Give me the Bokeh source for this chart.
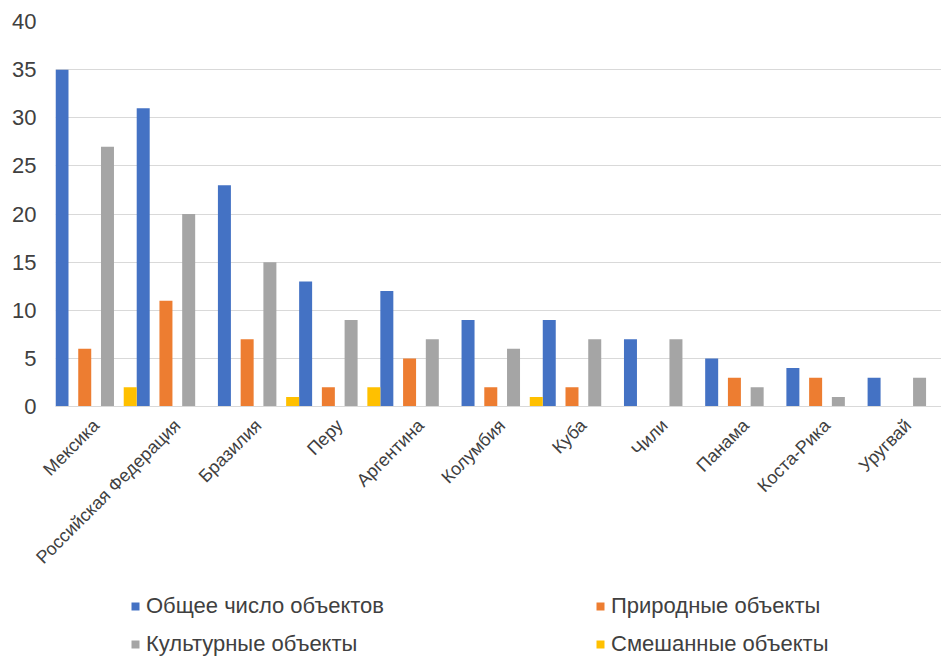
import numpy as np
from bokeh.plotting import figure
from bokeh.layouts import column
from bokeh.models import Range1d, FixedTicker, Legend, LegendItem, ColumnDataSource
from bokeh.embed import file_html
from bokeh.resources import INLINE

# World Heritage sites by country
countries = ["Мексика", "Российская Федерация", "Бразилия", "Перу", "Аргентина",
             "Колумбия", "Куба", "Чили", "Панама", "Коста-Рика", "Уругвай"]
total = [35, 31, 23, 13, 12, 9, 9, 7, 5, 4, 3]
natural = [6, 11, 7, 2, 5, 2, 2, 0, 3, 3, 0]
cultural = [27, 20, 15, 9, 7, 6, 7, 7, 2, 1, 3]
mixed = [2, 0, 1, 2, 0, 1, 0, 0, 0, 0, 0]

series_names = ["Общее число объектов", "Природные объекты",
                "Культурные объекты", "Смешанные объекты"]
series_values = [total, natural, cultural, mixed]
colors = ["#4472C4", "#ED7D31", "#A5A5A5", "#FFC000"]
offsets = [-0.42, -0.14, 0.14, 0.42]
bar_width = 0.16

FONT = "Liberation Sans"
TEXT = "#404040"

p = figure(width=941, height=590, output_backend="svg", toolbar_location=None,
           x_range=Range1d(-0.5, 10.41), y_range=Range1d(0, 40),
           min_border_left=55, min_border_right=0, min_border_top=21,
           min_border_bottom=184)
p.outline_line_color = None
p.background_fill_color = "white"
p.border_fill_color = "white"

idx = np.arange(len(countries))
sources = []
for name, vals, col, off in zip(series_names, series_values, colors, offsets):
    src = ColumnDataSource(dict(x=idx + off, top=vals))
    sources.append(src)
    p.vbar(x="x", top="top", width=bar_width, source=src,
           fill_color=col, line_color=None)

# axes
p.xaxis.ticker = FixedTicker(ticks=list(idx))
p.xaxis.major_label_overrides = {int(i): c for i, c in zip(idx, countries)}
p.xaxis.major_label_orientation = np.pi / 4
p.xaxis.axis_line_color = "#D9D9D9"
p.xaxis.major_tick_line_color = None
p.xaxis.minor_tick_line_color = None
p.xaxis.major_label_text_font = FONT
p.xaxis.major_label_text_font_size = "18px"
p.xaxis.major_label_text_color = TEXT
p.xaxis.major_label_standoff = 10

p.yaxis.ticker = FixedTicker(ticks=list(range(0, 41, 5)))
p.yaxis.axis_line_color = None
p.yaxis.major_tick_line_color = None
p.yaxis.minor_tick_line_color = None
p.yaxis.major_label_text_font = FONT
p.yaxis.major_label_text_font_size = "22px"
p.yaxis.major_label_text_color = TEXT
p.yaxis.major_label_standoff = 13

p.xgrid.grid_line_color = None
p.ygrid.grid_line_color = "#D9D9D9"
p.ygrid.grid_line_width = 1

# legend strip underneath the chart, two columns of two entries;
# its own ranges sit away from the data so only the legend shows
lf = figure(width=941, height=67, output_backend="svg", toolbar_location=None,
            x_range=Range1d(100, 101), y_range=Range1d(100, 101), min_border=0)
lf.outline_line_color = None
lf.xaxis.visible = False
lf.yaxis.visible = False
lf.xgrid.grid_line_color = None
lf.ygrid.grid_line_color = None

swatches = []
for src, col in zip(sources, colors):
    swatches.append(lf.vbar(x="x", top="top", width=bar_width, source=src,
                            fill_color=col, line_color=None))

def make_legend(pairs, loc):
    return Legend(items=[LegendItem(label=series_names[i], renderers=[swatches[i]]) for i in pairs],
                  location=loc, orientation="vertical",
                  border_line_color=None, background_fill_alpha=0,
                  padding=0, margin=0, spacing=12,
                  glyph_width=10, glyph_height=10, label_standoff=6,
                  label_text_font=FONT, label_text_font_size="22px",
                  label_text_color=TEXT)

lf.add_layout(make_legend([0, 2], (75, 0)), "center")
lf.add_layout(make_legend([1, 3], (540, 0)), "center")

layout = column(p, lf, spacing=0)
open("out.html", "w").write(file_html(layout, INLINE))
